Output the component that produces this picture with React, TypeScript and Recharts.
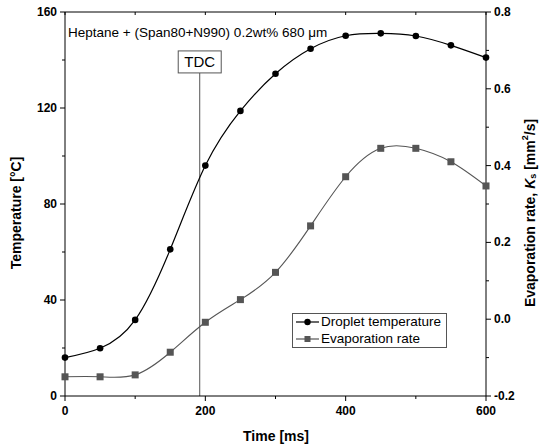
import { Legend, Line, LineChart, ReferenceDot, ReferenceLine, XAxis, YAxis } from "recharts"

const FONT = "'Liberation Sans', Arial, sans-serif"

const times: number[] = [0, 50, 100, 150, 200, 250, 300, 350, 400, 450, 500, 550, 600]
const dropletTemp: number[] = [16.0, 19.9, 31.7, 61.1, 96.0, 118.8, 134.3, 144.7, 150.1, 151.1, 150.0, 146.1, 141.0]
const evapRate: number[] = [-0.15, -0.15, -0.145, -0.086, -0.008, 0.051, 0.122, 0.243, 0.371, 0.445, 0.445, 0.41, 0.347]

const timeTicks: number[] = [0, 100, 200, 300, 400, 500, 600]
const tempTicks: number[] = [0, 20, 40, 60, 80, 100, 120, 140, 160]
const rateTicks: number[] = [-0.2, -0.1, 0, 0.1, 0.2, 0.3, 0.4, 0.5, 0.6, 0.7, 0.8]

const TDC_TIME = 192

const data = times.map((t, i) => ({ time: t, temp: dropletTemp[i], rate: evapRate[i] }))

const LeftTick = (props: any) => {
	const { x, y, payload } = props
	const major = payload.value % 40 === 0
	return (
		<g>
			<line x1={x - (major ? 5 : 3)} x2={x} y1={y} y2={y} stroke="#000" />
			{major && (
				<text x={x - 8} y={y} dy={4} textAnchor="end" fontSize={12} fontWeight="bold" fontFamily={FONT} fill="#000">
					{payload.value}
				</text>
			)}
		</g>
	)
}

const RightTick = (props: any) => {
	const { x, y, payload } = props
	const major = Math.round(payload.value * 10) % 2 === 0
	return (
		<g>
			<line x1={x} x2={x + (major ? 5 : 3)} y1={y} y2={y} stroke="#000" />
			{major && (
				<text x={x + 8} y={y} dy={4} textAnchor="start" fontSize={12} fontWeight="bold" fontFamily={FONT} fill="#000">
					{payload.value.toFixed(1)}
				</text>
			)}
		</g>
	)
}

const BottomTick = (props: any) => {
	const { x, y, payload } = props
	const major = payload.value % 200 === 0
	return (
		<g>
			<line x1={x} x2={x} y1={y} y2={y + (major ? 5 : 3)} stroke="#000" />
			{major && (
				<text x={x} y={y + 19} textAnchor="middle" fontSize={12} fontWeight="bold" fontFamily={FONT} fill="#000">
					{payload.value}
				</text>
			)}
		</g>
	)
}

const TopTick = (props: any) => {
	const { x, y } = props
	return <line x1={x} x2={x} y1={y} y2={y + 3} stroke="#000" />
}

const LegendBox = (props: any) => {
	const { payload } = props
	return (
		<div
			style={{
				border: "1px solid #555",
				background: "#fff",
				width: 153,
				height: 33,
				fontFamily: FONT,
				fontSize: 13.5,
				lineHeight: "16.5px",
				boxSizing: "content-box",
			}}
		>
			{(payload || []).map((entry: any, i: number) => (
				<div key={`leg-${i}`} style={{ display: "flex", alignItems: "center", height: 16.5 }}>
					<svg width={28} height={16} style={{ flex: "none" }}>
						<line x1={3} x2={26} y1={8} y2={8} stroke={entry.color} strokeWidth={1.2} />
						{i === 0 ? (
							<circle cx={14.5} cy={8} r={3.2} fill={entry.color} />
						) : (
							<rect x={11.5} y={5} width={6} height={6} fill={entry.color} />
						)}
					</svg>
					<span style={{ color: "#000" }}>{entry.value}</span>
				</div>
			))}
		</div>
	)
}

const TdcBox = (props: any) => {
	const { cx, cy } = props
	return (
		<g>
			<rect x={cx - 21.5} y={cy - 11} width={43} height={22} fill="#fff" stroke="#555" />
			<text x={cx} y={cy + 5.5} textAnchor="middle" fontSize={15} fontFamily={FONT} fill="#000">
				TDC
			</text>
		</g>
	)
}

const App = () => {
	return (
		<div style={{ position: "absolute", left: 0, top: 0, width: 541, height: 447, background: "#fff" }}>
			<LineChart width={541} height={447} data={data} margin={{ top: 2, right: 0, bottom: 0, left: 0 }}>
				<XAxis
					dataKey="time"
					type="number"
					domain={[0, 600]}
					ticks={timeTicks}
					interval={0}
					height={51}
					tickSize={0}
					tickMargin={0}
					tickLine={false}
					tick={<BottomTick />}
					axisLine={{ stroke: "#000" }}
				/>
				<XAxis
					xAxisId="top"
					orientation="top"
					dataKey="time"
					type="number"
					domain={[0, 600]}
					ticks={timeTicks}
					interval={0}
					height={10}
					tickSize={0}
					tickMargin={0}
					tickLine={false}
					tick={<TopTick />}
					axisLine={{ stroke: "#000" }}
				/>
				<YAxis
					yAxisId="temp"
					domain={[0, 160]}
					ticks={tempTicks}
					interval={0}
					width={65}
					tickSize={0}
					tickMargin={0}
					tickLine={false}
					tick={<LeftTick />}
					axisLine={{ stroke: "#000" }}
				/>
				<YAxis
					yAxisId="rate"
					orientation="right"
					domain={[-0.2, 0.8]}
					ticks={rateTicks}
					interval={0}
					width={55}
					tickSize={0}
					tickMargin={0}
					tickLine={false}
					tick={<RightTick />}
					axisLine={{ stroke: "#000" }}
				/>
				<ReferenceLine
					yAxisId="temp"
					segment={[
						{ x: TDC_TIME, y: 134.6 },
						{ x: TDC_TIME, y: 0 },
					]}
					stroke="#555"
					strokeWidth={1}
				/>
				<ReferenceDot yAxisId="temp" x={TDC_TIME} y={139.2} r={1} shape={<TdcBox />} />
				<Line
					yAxisId="temp"
					name="Droplet temperature"
					dataKey="temp"
					type="natural"
					stroke="#000"
					strokeWidth={1.2}
					dot={{ r: 3.3, fill: "#000", stroke: "#000", strokeWidth: 0 }}
					isAnimationActive={false}
				/>
				<Line
					yAxisId="rate"
					name="Evaporation rate"
					dataKey="rate"
					type="natural"
					stroke="#555"
					strokeWidth={1.1}
					dot={(p: any) => <rect key={`sq-${p.index}`} x={p.cx - 3.5} y={p.cy - 3.5} width={7} height={7} fill="#555" />}
					isAnimationActive={false}
				/>
				<Legend
					layout="vertical"
					align="center"
					verticalAlign="middle"
					content={<LegendBox />}
					wrapperStyle={{ left: 292, top: 313, width: 155, height: 35 }}
				/>
				<text x={68} y={37} fontSize={13.5} fontFamily={FONT} fill="#000">
					Heptane + (Span80+N990) 0.2wt% 680 μm
				</text>
				<text x={276} y={441} textAnchor="middle" fontSize={14} fontWeight="bold" fontFamily={FONT} fill="#000">
					Time [ms]
				</text>
				<text
					x={16}
					y={213}
					transform="rotate(-90 16 213)"
					textAnchor="middle"
					dominantBaseline="central"
					fontSize={14}
					fontWeight="bold"
					fontFamily={FONT}
					fill="#000"
				>
					Temperature [°C]
				</text>
				<text
					x={530}
					y={213}
					transform="rotate(-90 530 213)"
					textAnchor="middle"
					dominantBaseline="central"
					fontSize={14}
					fontWeight="bold"
					fontFamily={FONT}
					fill="#000"
				>
					Evaporation rate, <tspan fontStyle="italic">K</tspan>
					<tspan fontSize={9} dy={3}>s</tspan>
					<tspan dy={-3}> [mm</tspan>
					<tspan fontSize={9} dy={-5}>2</tspan>
					<tspan dy={5}>/s]</tspan>
				</text>
			</LineChart>
		</div>
	)
}

export default App
